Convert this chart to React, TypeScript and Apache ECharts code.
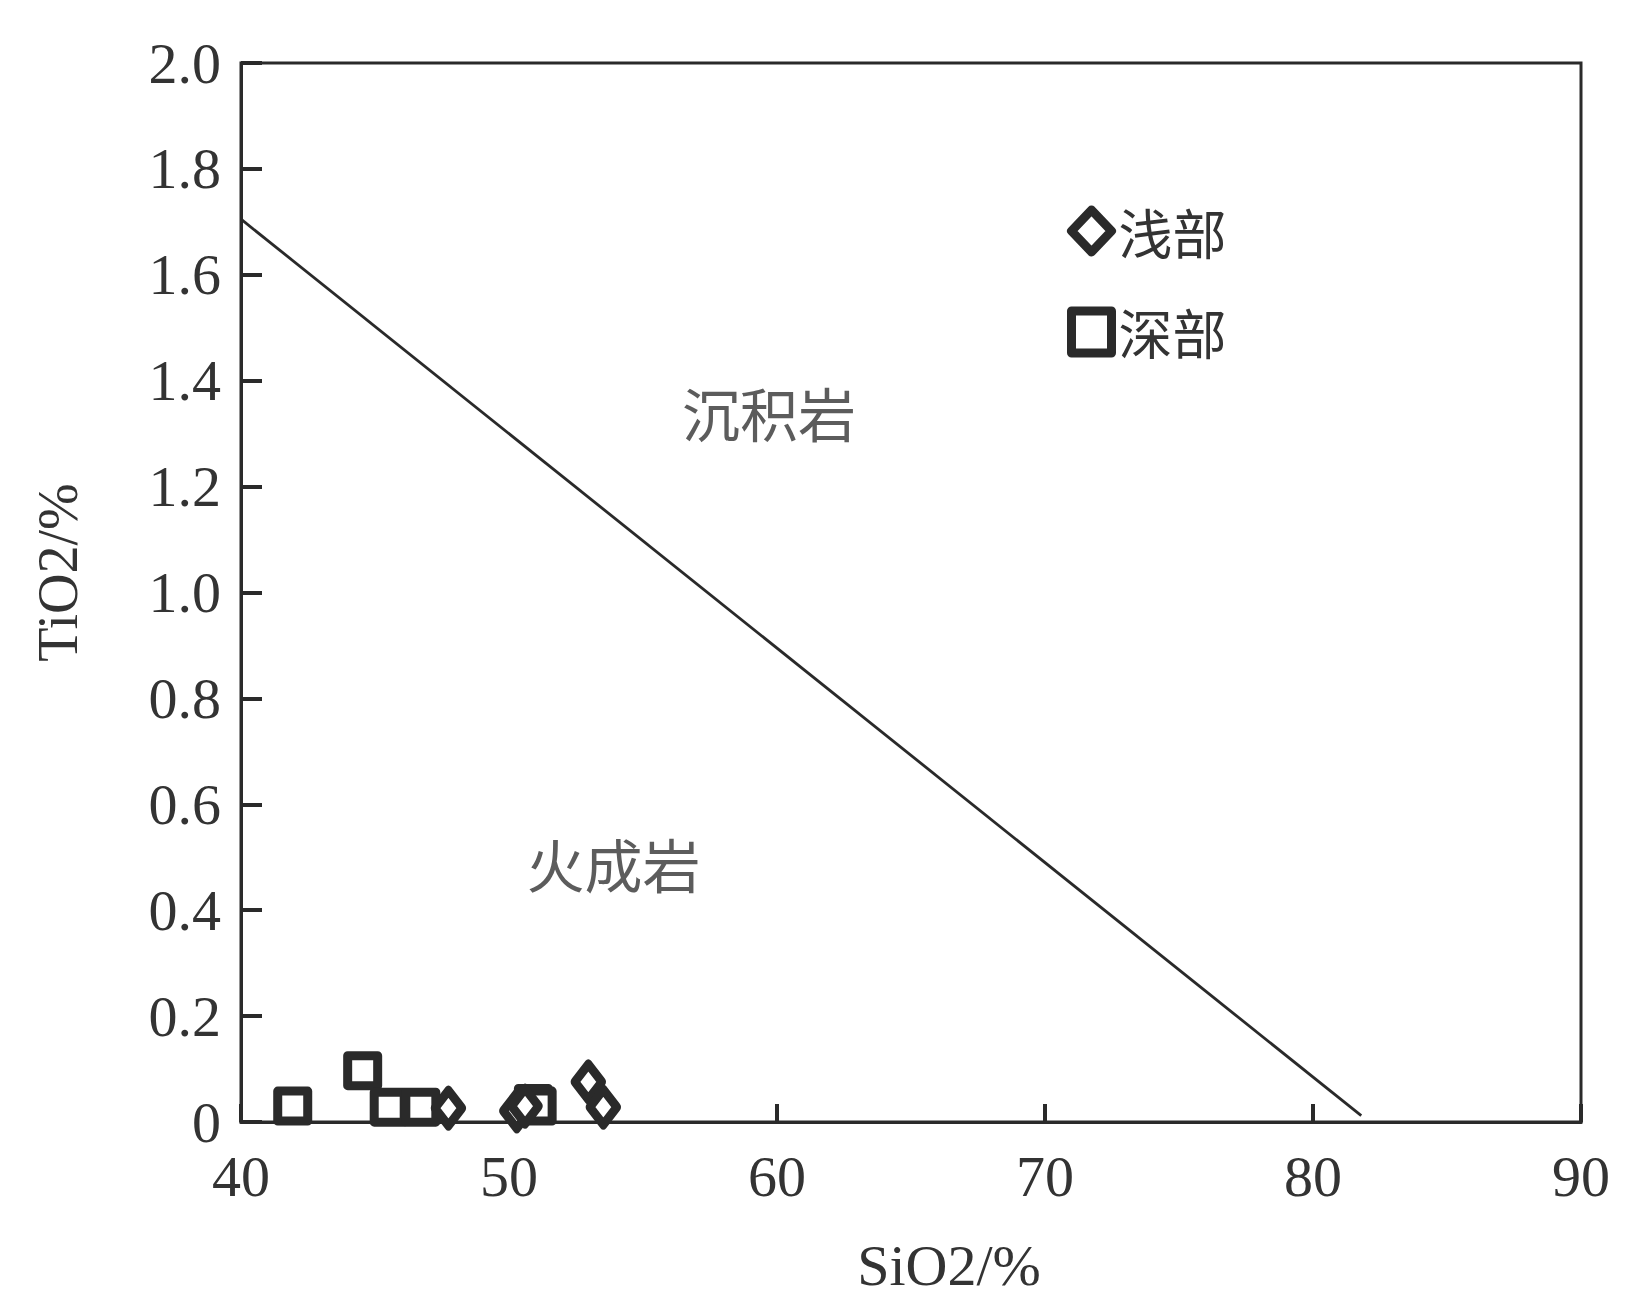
import React, { useEffect, useRef } from "react";
import * as echarts from "echarts";

const xTicks = [40, 50, 60, 70, 80, 90];
const yTicks = [0, 0.2, 0.4, 0.6, 0.8, 1.0, 1.2, 1.4, 1.6, 1.8, 2.0];

const shallowName = "浅部";
const deepName = "深部";

// 浅部 (diamonds): [SiO2, TiO2]
const shallowData: number[][] = [
  [47.74, 0.026],
  [50.29, 0.021],
  [50.6, 0.03],
  [52.96, 0.076],
  [53.52, 0.028],
];

// 深部 (squares)
const deepData: number[][] = [
  [41.93, 0.03],
  [44.54, 0.097],
  [45.53, 0.028],
  [46.71, 0.028],
  [50.91, 0.035],
  [51.05, 0.03],
];

// discrimination line
const boundaryLine: number[][] = [
  [40, 1.705],
  [81.8, 0.012],
];

const regionLabels = [
  { name: "沉积岩", value: [59.7, 1.34] },
  { name: "火成岩", value: [53.9, 0.49] },
];

const serif = "'Liberation Serif', 'Times New Roman', serif";
const cjk = "'Noto Sans CJK SC', sans-serif";
const ink = "#2a2a2a";

export default function App() {
  const ref = useRef<HTMLDivElement>(null);
  useEffect(() => {
    document.body.style.margin = "0";
    const chart = echarts.init(ref.current!, undefined, { renderer: "svg" });
    chart.setOption({
      animation: false,
      backgroundColor: "#fff",
      grid: {
        left: 241,
        top: 63,
        right: 56,
        bottom: 190,
        show: true,
        borderColor: ink,
        borderWidth: 3,
        containLabel: false,
      },
      xAxis: {
        type: "value",
        min: 40,
        max: 90,
        interval: 10,
        name: "SiO2/%",
        nameLocation: "middle",
        nameGap: 114,
        nameTextStyle: {
          fontFamily: serif,
          fontSize: 58,
          color: "#333",
          padding: [0, 0, 0, 76],
        },
        axisLine: { show: true, onZero: false, lineStyle: { color: ink, width: 3 } },
        axisTick: { show: true, inside: true, length: 18, lineStyle: { color: ink, width: 4 } },
        axisLabel: {
          fontFamily: serif,
          fontSize: 58,
          color: "#333",
          margin: 25,
          formatter: (v: number) => String(v),
        },
        splitLine: { show: false },
      },
      yAxis: {
        type: "value",
        min: 0,
        max: 2,
        interval: 0.2,
        name: "TiO2/%",
        nameLocation: "middle",
        nameGap: 155,
        nameRotate: 90,
        nameTextStyle: {
          fontFamily: serif,
          fontSize: 56,
          color: "#333",
          padding: [0, 0, 0, 40],
        },
        axisLine: { show: true, onZero: false, lineStyle: { color: ink, width: 3 } },
        axisTick: { show: true, inside: true, length: 21, lineStyle: { color: ink, width: 4 } },
        axisLabel: {
          fontFamily: serif,
          fontSize: 58,
          color: "#333",
          margin: 20,
          formatter: (v: number) => (v === 0 ? "0" : v.toFixed(1)),
        },
        splitLine: { show: false },
      },
      legend: {
        orient: "vertical",
        left: 1062,
        top: 199,
        itemWidth: 40,
        itemHeight: 42,
        itemGap: 47,
        textStyle: { fontFamily: cjk, fontSize: 54, color: "#333", padding: [0, 0, 0, 2] },
        data: [
          {
            name: shallowName,
            icon: "diamond",
            itemStyle: { color: "#fff", borderColor: ink, borderWidth: 9 },
          },
          {
            name: deepName,
            icon: "rect",
            itemStyle: { color: "#fff", borderColor: ink, borderWidth: 9, borderJoin: "round" },
          },
        ],
      },
      series: [
        {
          type: "line",
          data: boundaryLine,
          symbol: "none",
          silent: true,
          lineStyle: { color: ink, width: 2.8 },
          z: 1,
        },
        {
          name: deepName,
          type: "scatter",
          data: deepData,
          symbol: "rect",
          symbolSize: 30,
          itemStyle: {
            color: "#fff",
            borderColor: ink,
            borderWidth: 9,
            borderJoin: "round",
            opacity: 1,
          },
          z: 3,
        },
        {
          name: shallowName,
          type: "scatter",
          data: shallowData,
          symbol: "diamond",
          symbolSize: [27, 35],
          itemStyle: {
            color: "#fff",
            borderColor: ink,
            borderWidth: 9,
            borderJoin: "round",
            opacity: 1,
          },
          z: 4,
        },
        {
          type: "scatter",
          data: regionLabels,
          symbolSize: 0,
          silent: true,
          label: {
            show: true,
            position: "inside",
            formatter: (p: any) => p.name,
            fontFamily: cjk,
            fontSize: 58,
            color: "#333",
          },
          z: 2,
        },
      ],
    });
    return () => chart.dispose();
  }, []);
  return <div ref={ref} style={{ width: 1637, height: 1312 }} />;
}
